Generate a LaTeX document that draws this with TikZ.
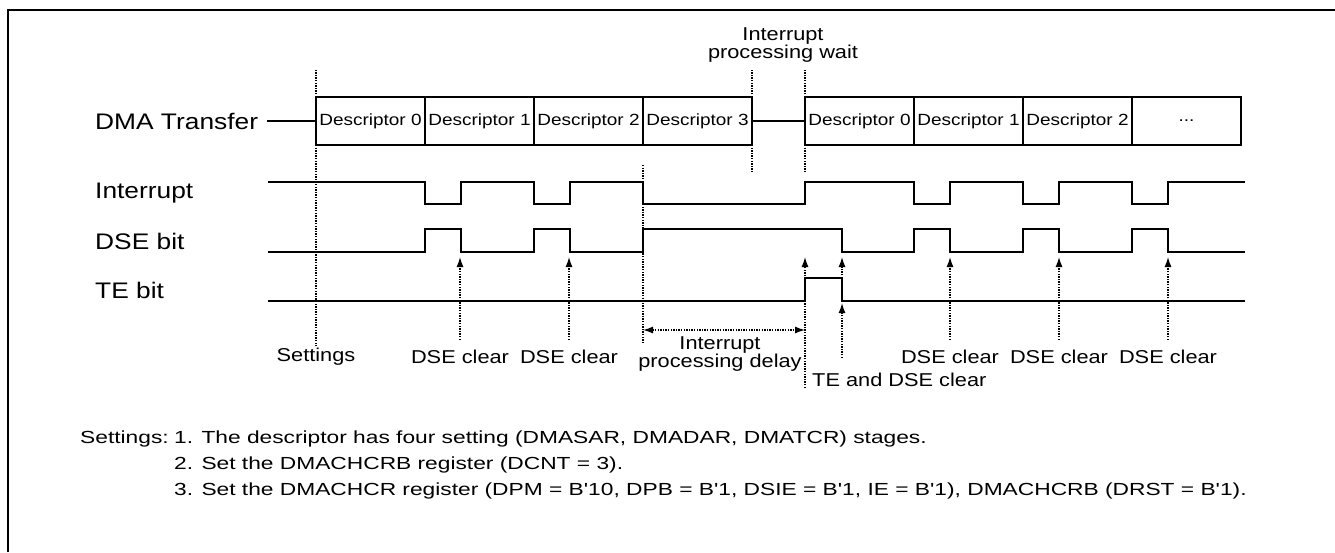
\documentclass[tikz,border=0pt]{standalone}
\usepackage{fontspec}
\newfontfamily\diagfont{Liberation Sans}[FakeStretch=1.17]
\newfontfamily\notefont{Liberation Sans}[FakeStretch=1.3]
\usetikzlibrary{arrows.meta,positioning}

\begin{document}
\begin{tikzpicture}[
    x=1pt, y=-1pt,
    rowlabel/.style={font=\diagfont\fontsize{22.5}{24}\selectfont, anchor=west, inner sep=0pt},
    desc/.style={rectangle, draw, line width=2.6pt, fill=white, minimum width=109pt,
                 minimum height=48pt, inner sep=0pt, outer sep=0pt,
                 font=\diagfont\fontsize{16.2}{18}\selectfont},
    event/.style={font=\diagfont\fontsize{18.6}{18}\selectfont, align=center, inner sep=2pt},
    notes/.style={font=\notefont\fontsize{17.5}{20}\selectfont, inner sep=0pt},
    sig/.style={line width=2.6pt},
    conn/.style={line width=1.3pt},
    guide/.style={line width=1.3pt, dash pattern=on 1.4pt off 1.2pt},
    clr/.style={guide, -{Latex[length=10pt,width=7pt]}}
]
\useasboundingbox (0,0) rectangle (1335,552);

% Frame
\draw[line width=2.6pt] (8,552) -- (8,10) -- (1335,10);

% Helper rows
\coordinate (top) at (0,70);
\coordinate (dsetip) at (0,257);
\coordinate (tehigh) at (0,278);
\coordinate (tetip) at (0,303);
\coordinate (dlyrow) at (0,330);

% Row labels
\node[rowlabel] (dma) at (95,121) {DMA Transfer};
\node[rowlabel] (intr) at (95,193) {Interrupt};
\node[rowlabel] (dse) at (95,241) {DSE bit};
\node[rowlabel] (te) at (95,290) {TE bit};

% Descriptor chain, first pass
\node[desc, anchor=west] (d0) at (316,121) {Descriptor 0};
\node[desc, right=0pt of d0] (d1) {Descriptor 1};
\node[desc, right=0pt of d1] (d2) {Descriptor 2};
\node[desc, right=0pt of d2] (d3) {Descriptor 3};

% Descriptor chain, second pass
\node[desc, anchor=west] (e0) at (805,121) {Descriptor 0};
\node[desc, right=0pt of e0] (e1) {Descriptor 1};
\node[desc, right=0pt of e1] (e2) {Descriptor 2};
\node[desc, right=0pt of e2] (e3) {...};

\draw[conn] (267,121) -- (d0);
\draw[conn] (d3) -- (e0);

% Event labels
\node[event] (wait) at (783,45) {Interrupt\\processing wait};
\node[event] (set) at (316,357) {Settings};
\node[event] (c1) at (460,357) {DSE clear};
\node[event] (c2) at (569,357) {DSE clear};
\node[event] (delay) at (720,354) {Interrupt\\processing delay};
\node[event, anchor=west] (tedse) at (810,380) {TE and DSE clear};
\node[event] (c3) at (950,357) {DSE clear};
\node[event] (c4) at (1059,357) {DSE clear};
\node[event] (c5) at (1168,357) {DSE clear};

% Guide lines
\draw[guide] (d0.north west) -- (d0.north west |- top);
\draw[guide] (d0.south west) -- (set);
\draw[guide] (d3.north east) -- (d3.north east |- top);
\draw[guide] (d3.south east) -- ++(0,27);
\draw[guide] (e0.north west) -- (e0.north west |- top);
\draw[guide] (e0.south west) -- ++(0,27);
\draw[guide] (d3.south west) ++(0,20) -- ++(0,178);
\draw[guide, {Latex[length=10pt,width=7pt]}-{Latex[length=10pt,width=7pt]}]
    (d3.west |- dlyrow) -- (e0.west |- dlyrow);

% Signals
\draw[sig] (268,182) -| (425,204) -| (461,182) -| (534,204) -| (570,182) -| (643,204)
    -| (805,182) -| (914,204) -| (950,182) -| (1023,204) -| (1059,182) -| (1132,204)
    -| (1168,182) -- (1245,182);
\draw[sig] (268,252) -| (425,229) -| (461,252) -| (534,229) -| (570,252) -| (643,229)
    -| (842,252) -| (914,229) -| (950,252) -| (1023,229) -| (1059,252) -| (1132,229)
    -| (1168,252) -- (1245,252);
\draw[sig] (268,301) -| (805,278) -| (842,301) -- (1245,301);

% Clear arrows
\foreach \n in {c1,c2,c3,c4,c5}
    \draw[clr, shorten <=3pt] (\n |- 0,343) -- (\n |- dsetip);
\coordinate (tebot) at (805,388);
\draw[clr] (tebot) -- (tebot |- dsetip);
\coordinate (teclr) at (842,358);
\draw[clr] (teclr) -- (teclr |- tetip);
\draw[clr] (teclr |- tehigh) -- (teclr |- dsetip);

% Notes
\node[notes, anchor=base west] (hdr) at (80,443) {Settings:};
\node[notes, anchor=base west] (s1) at ([xshift=5pt]hdr.base east)
    {1. The descriptor has four setting (DMASAR, DMADAR, DMATCR) stages.};
\node[notes, anchor=base west] (s2) at ([yshift=-26pt]s1.base west)
    {2. Set the DMACHCRB register (DCNT = 3).};
\node[notes, anchor=base west] (s3) at ([yshift=-26pt]s2.base west)
    {3. Set the DMACHCR register (DPM = B'10, DPB = B'1, DSIE = B'1, IE = B'1), DMACHCRB (DRST = B'1).};

\end{tikzpicture}
\end{document}
